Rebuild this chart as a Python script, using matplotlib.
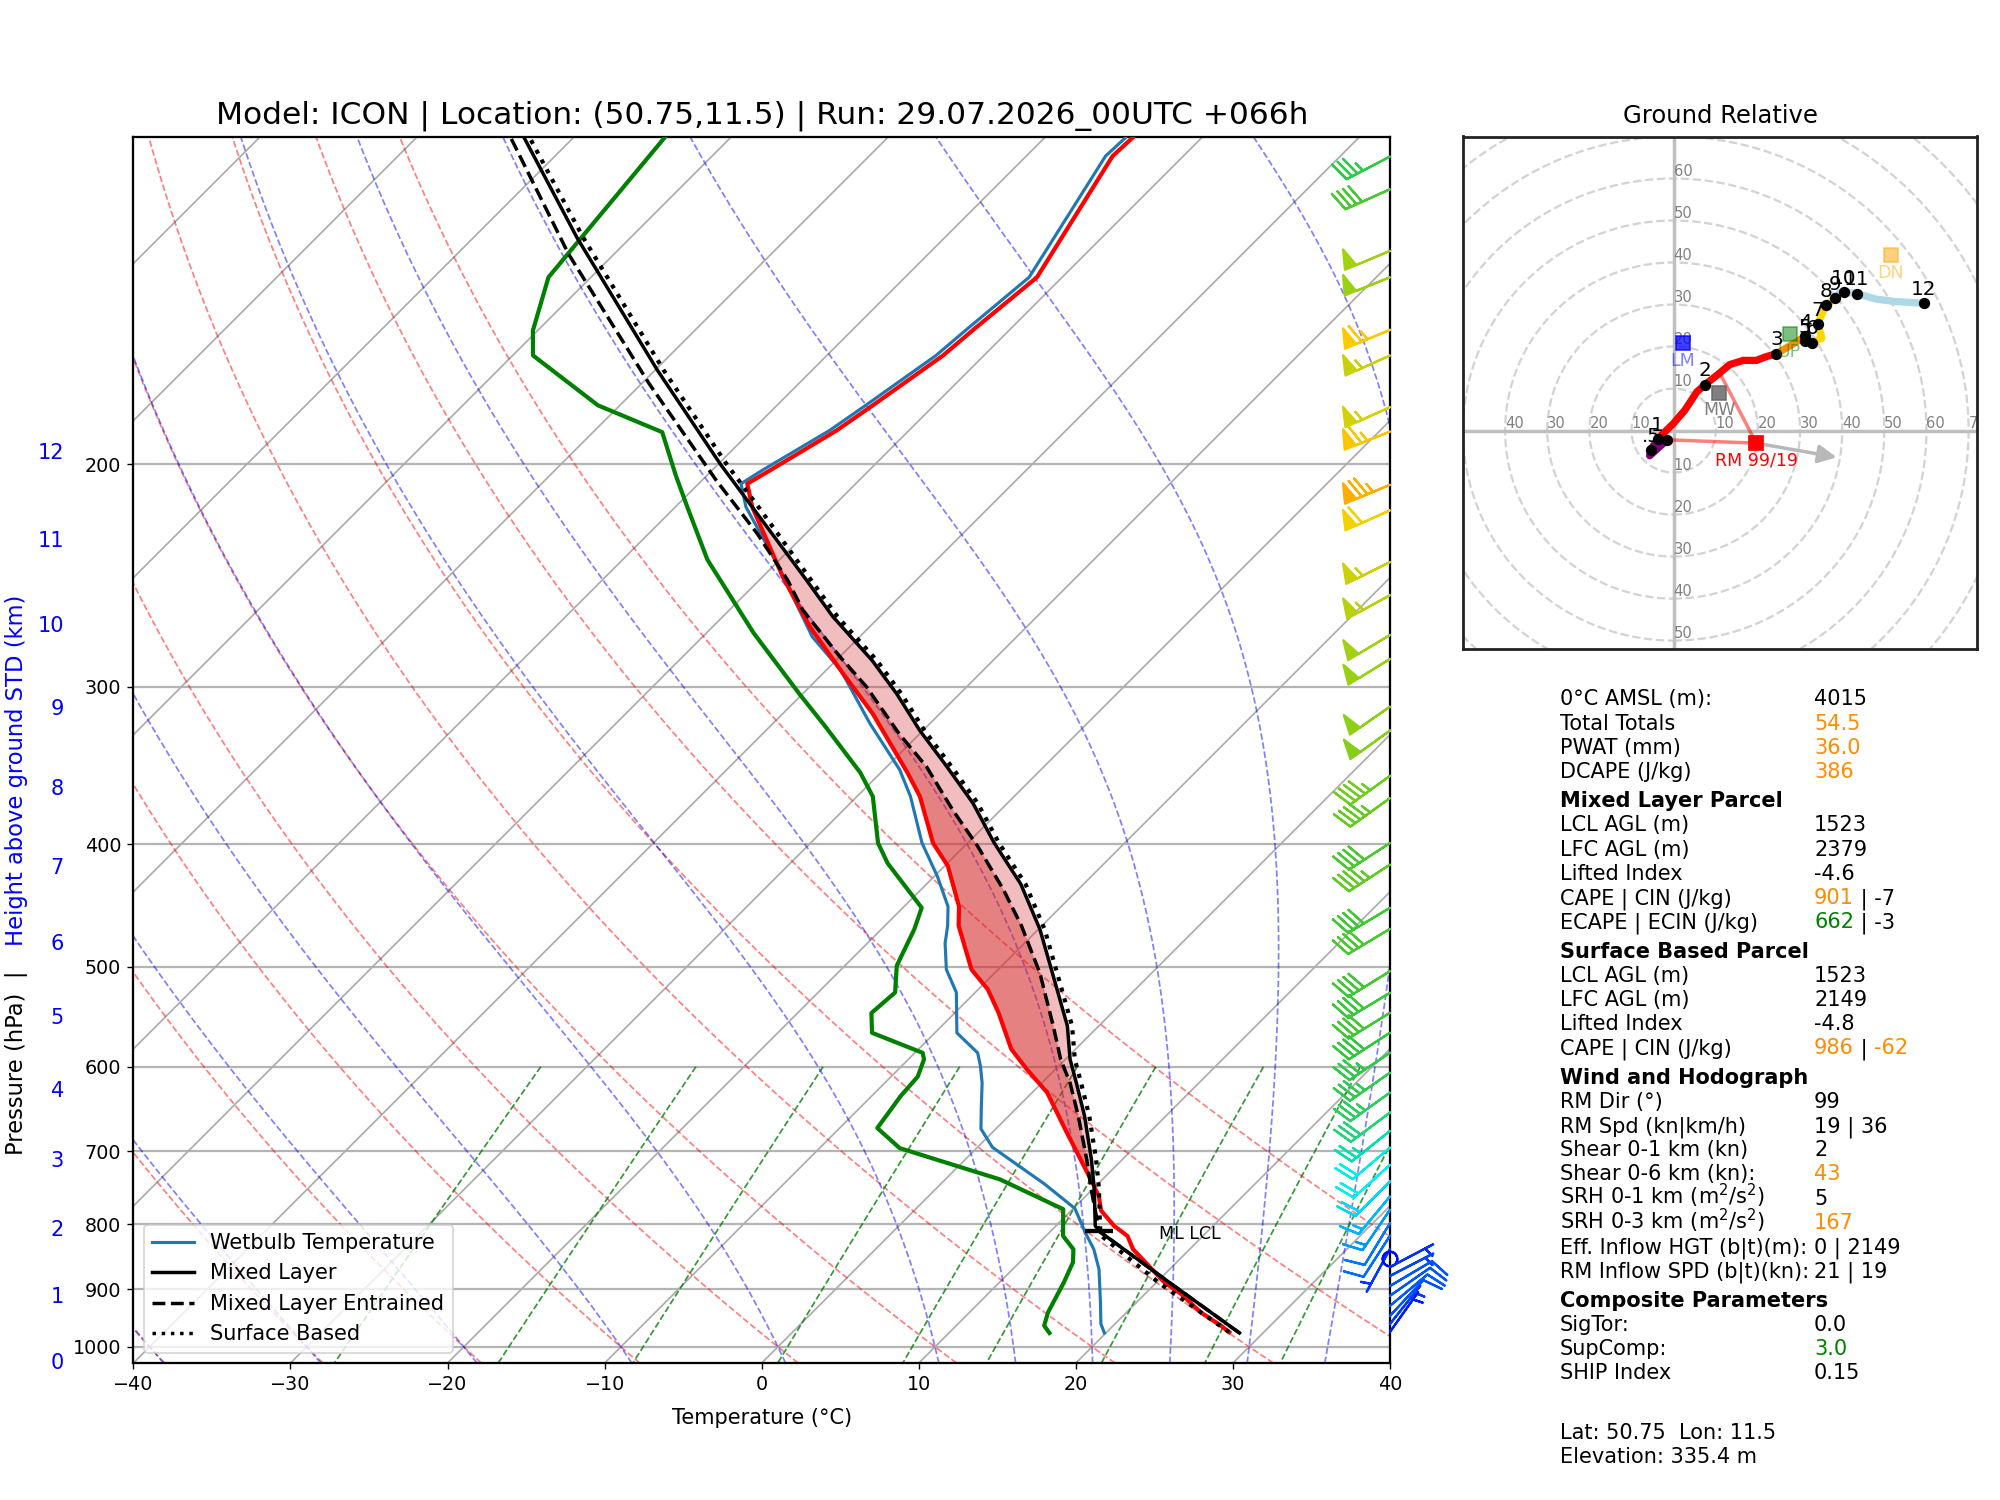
import numpy as np
import matplotlib
matplotlib.use("Agg")
import matplotlib.pyplot as plt
from matplotlib import transforms
from matplotlib.colors import LinearSegmentedColormap, Normalize
from matplotlib.lines import Line2D
from matplotlib.patches import Circle
from matplotlib.ticker import FixedLocator, NullLocator, FuncFormatter

# ------------------------------------------------------------------ data
TITLE = "Model: ICON | Location: (50.75,11.5) | Run: 29.07.2026_00UTC +066h"

# environment temperature (hPa, degC)
P_TEMP = [973.6, 962, 938.8, 908, 889, 862, 837, 817, 802, 780, 759, 752, 741, 710, 672,
          629, 603, 581, 564, 544, 521, 502.5, 464, 448, 416, 399, 366.5, 351, 315, 293,
          269, 245.6, 216.2, 207.2, 202.2, 188.0, 179.6, 164.0, 156.2, 142.2, 114.0, 110.2]
TEMP = [27.8, 26.85, 24.7, 22.3, 20.5, 18.4, 16.4, 15.2, 13.7, 11.9, 10.8, 10.3, 9.55, 7.3, 4.4,
        0.96, -1.8, -4.1, -5.5, -7.2, -9.4, -11.7, -15.3, -16.5, -19.8, -22.2, -26.0, -28.3, -34.3, -38.7,
        -43.8, -48.7, -55.1, -56.9, -56.3, -54.6, -53.9, -52.6, -52.3, -51.6, -54.5, -54.4]

# dewpoint
P_DEW = [975, 962, 939, 889, 857, 837, 817, 778, 737, 696, 671, 633, 611, 592, 585, 564, 544,
         524, 499, 467, 449, 414, 399, 366.5, 351, 323, 304, 272, 238, 216.8, 204, 188.6,
         179.6, 164, 156.7, 142.2, 110.2]
DEW = [16.4, 15.6, 15.0, 14.1, 13.4, 12.6, 11.1, 9.4, 3.5, -4.9, -7.6, -8.15, -8.3, -9.0, -9.5, -14.0, -15.3,
       -15.1, -16.7, -17.9, -18.8, -23.8, -25.7, -29.0, -31.3, -36.4, -40.2, -47.0, -54.6, -59.1, -62.0, -65.6,
       -71.4, -78.7, -80.3, -82.7, -84.2]

# wetbulb
P_WB = [975, 959, 922, 868, 837, 812, 777, 743, 695, 672, 648, 618, 599, 585, 564, 524, 502.5,
        479, 464, 448, 424, 399, 366.5, 349, 321, 291, 274, 238, 216.2, 207.2, 202.2, 188, 179.6,
        164, 156.2, 142.2, 114, 110.2]
WB = [19.9, 19.1, 17.7, 15.5, 13.9, 12.3, 10.1, 6.6, 0.96, -0.95, -2.2, -3.8, -5.0, -6.0, -8.6, -11.2, -13.3,
      -15.05, -16.0, -17.2, -19.8, -22.9, -26.6, -29.0, -33.8, -39.1, -43.0, -50.3, -55.5, -57.3, -56.8, -55.05, -54.35,
      -53.05, -52.75, -52.1, -54.95, -54.85]

# mixed layer parcel
P_ML = [975, 889, 810, 802, 750, 710, 656, 618, 592, 557, 506, 467, 430, 399, 371, 347, 325,
        304, 286, 264, 247, 216.2, 199.8, 168.6, 132.3, 109.9]
T_ML = [28.5, 20.8, 13.1, 12.5, 10.1, 8.0, 4.8, 2.2, 0.3, -2.0, -6.3, -9.9, -14.0, -18.3, -22.2, -26.2, -30.2,
        -34.0, -37.7, -43.0, -47.0, -55.1, -59.9, -69.8, -83.4, -93.3]

# mixed layer entrained parcel
P_ENT = [975, 889, 810, 750, 710, 656, 618, 592, 557, 506, 464, 434, 401, 376, 347, 327, 300,
         284, 261, 247, 226.9, 205.9, 172.7, 136.3, 110]
T_ENT = [28.5, 20.8, 13.1, 9.9, 7.7, 4.4, 1.8, -0.3, -2.9, -7.1, -11.3, -14.8, -19.2, -23.0, -27.5, -31.3, -36.4,
         -40.0, -45.3, -48.2, -53.1, -59.1, -69.5, -82.9, -94.1]

# surface based parcel
P_SB = [973.6, 890, 816.5, 802, 750, 710, 656, 618, 592, 557, 506, 467, 430, 399, 371, 347, 325,
        304, 286, 264, 247, 216.2, 199.8, 168.6, 132.3, 110]
T_SB = [27.8, 20.2, 13.5, 12.8, 10.4, 8.3, 5.1, 2.5, 0.6, -1.7, -6.0, -9.6, -13.7, -18.0, -21.9, -25.9, -29.9,
        -33.7, -37.4, -42.7, -46.7, -54.7, -59.5, -69.4, -83.0, -92.9]

ML_LCL_P = 810
ML_LCL_T = 13.1

# wind barbs (hPa, kt)
P_BARB = [114.1, 121.1, 135.5, 142.2, 156.5, 164.0, 180.2, 188.4, 207.6, 217.5, 239.0, 253.9,
          273.0, 285.2, 311.1, 325.0, 353.0, 367.6, 399.0, 415.0, 449.0, 466.6, 504.0, 524.3,
          543.7, 563.9, 584.8, 606.5, 628.9, 652.2, 674.5, 695.2, 717.5, 739.6, 760.0, 778.8,
          798.0, 816.5, 836.6, 852.0, 864.5, 878.7, 895.0, 911.0, 928.0, 945.0, 959.0, 973.0]
U_BARB = [31.9, 37.4, 47.0, 46.9, 59.0, 51.1, 52.0, 61.3, 68.2, 55.6, 50.1, 47.3,
          43.7, 42.5, 40.1, 39.3, 37.3, 36.5, 34.4, 36.9, 34.3, 35.1, 34.0, 33.4,
          34.0, 31.9, 29.8, 28.7, 26.8, 24.0, 20.3, 16.8, 15.6, 13.4, 10.2, 7.9,
          5.7, 5.4, 2.4, 0.8, -3.8, -5.6, -6.6, -6.6, -6.2, -5.2, -3.5, -1.7]
V_BARB = [16.6, 16.8, 19.8, 18.8, 24.8, 23.0, 23.4, 24.5, 28.7, 25.0, 25.1, 26.0,
          26.3, 26.3, 28.1, 28.4, 26.9, 26.3, 22.3, 24.0, 20.6, 21.1, 21.1, 20.1,
          21.1, 20.7, 20.2, 20.1, 19.3, 18.0, 16.2, 14.3, 14.1, 13.4, 12.3, 11.6,
          9.4, 8.4, 4.4, 0.6, -2.0, -2.9, -3.9, -4.6, -5.2, -5.6, -4.4, -2.4]

# hodograph (km AGL, kt)
HODO_Z = [0.0, 0.25, 0.5, 1.0, 1.2, 1.4, 1.75, 2.0, 2.2, 2.4, 2.6, 2.75, 2.9, 3.0, 3.5, 4.0,
          5.0, 6.0, 6.5, 7.0, 8.0, 9.0, 9.5, 10.0, 11.0, 11.3, 11.6, 12.0]
HODO_U = [-1.5, -5.7, -5.4, -3.8, -0.04, 2.7, 5.5, 7.4, 10.2, 13.3, 16.5, 19.6, 22.0, 24.4, 27.8, 31.2,
          31.2, 32.8, 35.2, 34.2, 36.2, 38.4, 39.3, 40.4, 43.4, 48.0, 52.7, 59.4]
HODO_V = [-2.2, -6.0, -4.6, -2.0, 1.7, 4.9, 9.2, 10.9, 13.1, 15.7, 16.7, 16.7, 17.6, 18.3, 20.3, 22.4,
          21.3, 20.9, 22.0, 25.4, 29.9, 31.5, 32.8, 33.0, 32.6, 31.3, 30.7, 30.3]
HODO_LABEL_Z = [0.5, 1, 2, 3, 4, 5, 6, 7, 8, 9, 10, 11, 12]
HODO_LABELS = [".5", "1", "2", "3", "4", "5", "6", "7", "8", "9", "10", "11", "12"]

RM_UV = (19.6, -3.0)
LM_UV = (2.2, 20.8)
MW_UV = (10.8, 9.0)
UP_UV = (27.5, 23.0)
DN_UV = (51.5, 41.7)
ARROW_END = (39.5, -6.5)
EIL_TOP_UV = (11.1, 13.4)
RM_LABEL = "RM 99/19"

# text panel
K, O, G = "black", "darkorange", "green"
PANEL_ROWS = [
    ("row", "0°C AMSL (m):", [("4015", K)]),
    ("row", "Total Totals", [("54.5", O)]),
    ("row", "PWAT (mm)", [("36.0", O)]),
    ("row", "DCAPE (J/kg)", [("386", O)]),
    ("head", "Mixed Layer Parcel", []),
    ("row", "LCL AGL (m)", [("1523", K)]),
    ("row", "LFC AGL (m)", [("2379", K)]),
    ("row", "Lifted Index", [("-4.6", K)]),
    ("row", "CAPE | CIN (J/kg)", [("901", O), (" | -7", K)]),
    ("row", "ECAPE | ECIN (J/kg)", [("662", G), (" | -3", K)]),
    ("head", "Surface Based Parcel", []),
    ("row", "LCL AGL (m)", [("1523", K)]),
    ("row", "LFC AGL (m)", [("2149", K)]),
    ("row", "Lifted Index", [("-4.8", K)]),
    ("row", "CAPE | CIN (J/kg)", [("986", O), (" | ", K), ("-62", O)]),
    ("head", "Wind and Hodograph", []),
    ("row", "RM Dir (°)", [("99", K)]),
    ("row", "RM Spd (kn|km/h)", [("19 | 36", K)]),
    ("row", "Shear 0-1 km (kn)", [("2", K)]),
    ("row", "Shear 0-6 km (kn):", [("43", O)]),
    ("row", "SRH 0-1 km (m$^2$/s$^2$)", [("5", K)]),
    ("row", "SRH 0-3 km (m$^2$/s$^2$)", [("167", O)]),
    ("row", "Eff. Inflow HGT (b|t)(m):", [("0 | 2149", K)]),
    ("row", "RM Inflow SPD (b|t)(kn):", [("21 | 19", K)]),
    ("head", "Composite Parameters", []),
    ("row", "SigTor:", [("0.0", K)]),
    ("row", "SupComp:", [("3.0", G)]),
    ("row", "SHIP Index", [("0.15", K)]),
    ("foot", "Lat: 50.75  Lon: 11.5", []),
    ("row", "Elevation: 335.4 m", []),
]

HEIGHT_KM = list(range(13))

# ------------------------------------------------------------------ figure
W_PX, H_PX, DPI = 2000, 1500, 125
fig = plt.figure(figsize=(W_PX / DPI, H_PX / DPI), dpi=DPI)

AX_RECT = [0.0667, 0.0913, 0.6283, 0.8177]
P_BOTTOM, P_TOP = 1030, 110
ax = fig.add_axes(AX_RECT)
ax.set_yscale("log")
ax.set_xlim(-40, 40)
ax.set_ylim(P_BOTTOM, P_TOP)
ax.set_autoscale_on(False)

k_skew = (H_PX * AX_RECT[3]) / (W_PX * AX_RECT[2])
skew = (ax.transScale + ax.transLimits +
        transforms.Affine2D().skew(np.arctan(k_skew), 0) + ax.transAxes)

# ticks
ax.xaxis.set_major_locator(FixedLocator(np.arange(-40, 41, 10)))
ax.yaxis.set_major_locator(FixedLocator(np.arange(100, 1001, 100)))
ax.yaxis.set_minor_locator(NullLocator())
ax.yaxis.set_major_formatter(FuncFormatter(lambda v, _: f"{v:.0f}"))
ax.tick_params(labelsize=11)
for sp in ax.spines.values():
    sp.set_linewidth(1.3)
ax.yaxis.grid(True, color="#b4b4b4", lw=1.3)
ax.set_axisbelow(True)

# isotherms
for t in np.arange(-160, 41, 10):
    ax.plot([t, t], [P_BOTTOM, P_TOP], color="#acacac", lw=1.0, transform=skew, zorder=1)

p_bg = np.geomspace(P_BOTTOM, P_TOP, 120)
# dry adiabats
for t0 in np.arange(-40, 51, 10):
    tt = (t0 + 273.15) * (p_bg / 1000.0) ** 0.2857 - 273.15
    ax.plot(tt, p_bg, color="red", ls="--", lw=1.0, alpha=0.5, transform=skew, zorder=1)


# moist adiabats
def moist_adiabat(t0c, plist):
    Rd, Cp, Lv, eps = 287.04749, 1004.6662, 2.50084e6, 0.621957

    def f(T, pp):
        es = 6.112 * np.exp(17.67 * (T - 273.15) / (T - 29.65))
        rs = eps * es / (pp - es)
        return (Rd * T + Lv * rs) / (Cp + Lv * Lv * rs * eps / (Rd * T * T)) / pp

    out = []
    T = t0c + 273.15
    pp = 1000.0
    for pt in plist:
        n = 4
        h = (pt - pp) / n
        for _ in range(n):
            k1 = f(T, pp)
            k2 = f(T + h * k1 / 2, pp + h / 2)
            k3 = f(T + h * k2 / 2, pp + h / 2)
            k4 = f(T + h * k3, pp + h)
            T += h * (k1 + 2 * k2 + 2 * k3 + k4) / 6
            pp += h
        out.append(T - 273.15)
    return np.array(out)


p_up = np.geomspace(1000, P_TOP, 160)
p_dn = np.linspace(1000, P_BOTTOM, 8)
for t0 in list(np.arange(-40, 10, 10)) + list(np.arange(10, 41, 5)):
    tu = moist_adiabat(t0, p_up)
    td = moist_adiabat(t0, p_dn)
    pp = np.concatenate([p_dn[::-1], p_up[1:]])
    tt = np.concatenate([td[::-1], tu[1:]])
    ax.plot(tt, pp, color="blue", ls="--", lw=1.0, alpha=0.5, transform=skew, zorder=1)

# mixing ratio lines
p_mix = np.linspace(600, P_BOTTOM, 50)
for w in [0.4, 1, 2, 4, 7, 10, 16, 24, 32]:
    wk = w / 1000.0
    e = wk * p_mix / (0.621957 + wk)
    le = np.log(e / 6.112)
    td = 243.5 * le / (17.67 - le)
    ax.plot(td, p_mix, color="green", ls="--", lw=1.0, alpha=0.8, transform=skew, zorder=1)


# CAPE shading
def on_grid(pg, p, t):
    p = np.asarray(p, float)
    t = np.asarray(t, float)
    o = np.argsort(p)
    return np.interp(np.log(pg), np.log(p[o]), t[o])


pg = np.geomspace(765, 210, 400)
tg = on_grid(pg, P_TEMP, TEMP)
mlg = on_grid(pg, P_ML, T_ML)
eng = on_grid(pg, P_ENT, T_ENT)
ax.fill_betweenx(pg, tg, mlg, where=mlg > tg, interpolate=True, color="tab:red",
                 alpha=0.3, lw=0, transform=skew, zorder=2)
ax.fill_betweenx(pg, tg, eng, where=eng > tg, interpolate=True, color="tab:red",
                 alpha=0.4, lw=0, transform=skew, zorder=2)

# profiles
ax.plot(DEW, P_DEW, color="green", lw=2.4, transform=skew, zorder=4)
ax.plot(WB, P_WB, color="tab:blue", lw=1.8, transform=skew, zorder=4)
ax.plot(TEMP, P_TEMP, color="red", lw=2.4, transform=skew, zorder=4)
ax.plot(T_ML, P_ML, color="black", lw=2.0, transform=skew, zorder=5)
ax.plot(T_ENT, P_ENT, color="black", lw=2.0, ls="--", transform=skew, zorder=5)
ax.plot(T_SB, P_SB, color="black", lw=2.4, ls=":", transform=skew, zorder=5)

# LCL marker
ax.plot([ML_LCL_T], [ML_LCL_P], marker="_", ms=16, mew=2.5, color="black", transform=skew, zorder=6)
ax.text(ML_LCL_T + 4.0, ML_LCL_P + 4, "ML LCL", fontsize=10, ha="left", va="center",
        transform=skew, zorder=6)

# wind barbs
wind_cmap = LinearSegmentedColormap.from_list("wind", [
    (0 / 90, (0.0, 0.0, 1.0)), (8 / 90, (0.0, 0.35, 1.0)), (13 / 90, (0.0, 0.55, 1.0)),
    (18 / 90, (0.0, 0.82, 1.0)), (21 / 90, (0.0, 0.95, 0.94)), (26 / 90, (0.0, 0.88, 0.67)),
    (31 / 90, (0.16, 0.82, 0.43)), (38 / 90, (0.2, 0.78, 0.24)), (45 / 90, (0.4, 0.8, 0.12)),
    (50 / 90, (0.59, 0.82, 0.08)), (55 / 90, (0.76, 0.82, 0.04)), (62 / 90, (0.98, 0.82, 0.0)),
    (75 / 90, (1.0, 0.67, 0.0)), (90 / 90, (1.0, 0.4, 0.0))])
ub = np.array(U_BARB)
vb = np.array(V_BARB)
spd = np.hypot(ub, vb)
ax.barbs(np.ones(len(P_BARB)), P_BARB, ub, vb, spd, cmap=wind_cmap, norm=Normalize(0, 90),
         length=7.5, lw=1.3, transform=ax.get_yaxis_transform(), clip_on=False, zorder=7)

# legend
handles = [Line2D([], [], color="tab:blue", lw=1.8),
           Line2D([], [], color="black", lw=2.0),
           Line2D([], [], color="black", lw=2.0, ls="--"),
           Line2D([], [], color="black", lw=2.0, ls=":")]
ax.legend(handles, ["Wetbulb Temperature", "Mixed Layer", "Mixed Layer Entrained", "Surface Based"],
          loc="lower left", fontsize=12)

ax.set_title(TITLE, fontsize=18, pad=7.5)
ax.set_xlabel("Temperature (°C)", fontsize=12, labelpad=8)

# height labels (standard-atmosphere ratio from the bottom of the axis)
hl_trans = transforms.blended_transform_factory(fig.transFigure, ax.transData)
for z in HEIGHT_KM:
    p_lab = P_BOTTOM * (1 - z / 44.3308) ** 5.2559
    ax.text(64 / W_PX, p_lab, str(z), color="blue", fontsize=12, ha="right", va="center",
            transform=hl_trans, clip_on=False)

fig.text(17 / W_PX, 1 - 1155 / H_PX, "Pressure (hPa)  |", rotation=90, ha="center", va="bottom",
         fontsize=13, color="black")
fig.text(17 / W_PX, 1 - 946 / H_PX, "Height above ground STD (km)", rotation=90, ha="center",
         va="bottom", fontsize=13, color="blue")

# ------------------------------------------------------------------ hodograph
hx = fig.add_axes([1463 / W_PX, 1 - 649 / H_PX, 514 / W_PX, 512.5 / H_PX])
hx.set_xlim(-50, 72)
hx.set_ylim(-52, 70)
hx.set_xticks([])
hx.set_yticks([])
for sp in hx.spines.values():
    sp.set_linewidth(1.6)
    sp.set_color("#222222")
hx.set_title("Ground Relative", fontsize=14, pad=7.5)

for r in range(10, 110, 10):
    hx.add_patch(Circle((0, 0), r, fill=False, ls="--", lw=1.3, color="#d3d3d3", zorder=1))
hx.axhline(0, color="#bfbfbf", lw=2.0, zorder=2)
hx.axvline(0, color="#bfbfbf", lw=2.0, zorder=2)
RING_FS = 8.5
for r in range(10, 80, 10):
    hx.text(r, 0, str(r), color="gray", fontsize=RING_FS, ha="left", va="bottom", zorder=2, clip_on=True)
for r in range(10, 50, 10):
    hx.text(-r, 0, str(r), color="gray", fontsize=RING_FS, ha="left", va="bottom", zorder=2, clip_on=True)
for r in range(10, 70, 10):
    hx.text(0, r, str(r), color="gray", fontsize=RING_FS, ha="left", va="bottom", zorder=2, clip_on=True)
for r in range(10, 60, 10):
    hx.text(0, -r, str(r), color="gray", fontsize=RING_FS, ha="left", va="bottom", zorder=2, clip_on=True)

hz = np.array(HODO_Z)
hu = np.array(HODO_U)
hv = np.array(HODO_V)
for z0, z1, c in [(0, 1, "purple"), (1, 3, "red"), (3, 6, "darkorange"), (6, 9, "gold"),
                  (9, 12, "lightblue")]:
    m = (hz >= z0) & (hz <= z1)
    hx.plot(hu[m], hv[m], color=c, lw=4.2, solid_capstyle="round", solid_joinstyle="round", zorder=3)

# storm relative lines and arrow
hx.plot([RM_UV[0], hu[0]], [RM_UV[1], hv[0]], color="red", alpha=0.5, lw=2, zorder=3)
hx.plot([RM_UV[0], EIL_TOP_UV[0]], [RM_UV[1], EIL_TOP_UV[1]], color="red", alpha=0.5, lw=2, zorder=3)
hx.annotate("", xy=ARROW_END, xytext=RM_UV,
            arrowprops=dict(arrowstyle="-|>", color="#b8b8b8", lw=2, mutation_scale=22), zorder=3)

# km dots and labels
hx.plot([hu[0]], [hv[0]], "o", color="black", ms=5.5, zorder=5)
for zl, lab in zip(HODO_LABEL_Z, HODO_LABELS):
    i = int(np.argmin(np.abs(hz - zl)))
    hx.plot([hu[i]], [hv[i]], "o", color="black", ms=5.5, zorder=5)
    hx.annotate(lab, (hu[i], hv[i]), xytext=(0, 2.5), textcoords="offset points", ha="center",
                va="bottom", fontsize=11.5, zorder=6)

# storm motion markers
for uv, col, alpha, lab, lcol, lalpha in [
        (RM_UV, "red", 1.0, RM_LABEL, "red", 1.0),
        (LM_UV, "blue", 0.75, "LM", "blue", 0.5),
        (MW_UV, "dimgray", 0.85, "MW", "gray", 1.0),
        (UP_UV, "green", 0.5, "UP", "green", 0.5),
        (DN_UV, "orange", 0.5, "DN", "orange", 0.5)]:
    hx.plot([uv[0]], [uv[1]], "s", color=col, alpha=alpha, ms=7.5, zorder=6)
    hx.annotate(lab, uv, xytext=(0, -5), textcoords="offset points", ha="center", va="top",
                fontsize=10, color=lcol, alpha=lalpha, zorder=6)

# ------------------------------------------------------------------ text panel
renderer = fig.canvas.get_renderer()
X_LAB, X_VAL = 1560, 1814
y = 697.7
first = True
for kind, label, parts in PANEL_ROWS:
    if not first:
        if kind == "head":
            y += 29.3
        elif kind == "foot":
            y += 59.9
        else:
            y += 24.2
    first = False
    yb = y + 7.6
    weight = "bold" if kind == "head" else "normal"
    fig.text(X_LAB / W_PX, 1 - yb / H_PX, label, fontsize=12, fontweight=weight,
             ha="left", va="baseline")
    xv = X_VAL
    for s, c in parts:
        t = fig.text(xv / W_PX, 1 - yb / H_PX, s, fontsize=12, color=c, ha="left", va="baseline")
        xv = t.get_window_extent(renderer).x1

fig.savefig("out.png", dpi=DPI)
